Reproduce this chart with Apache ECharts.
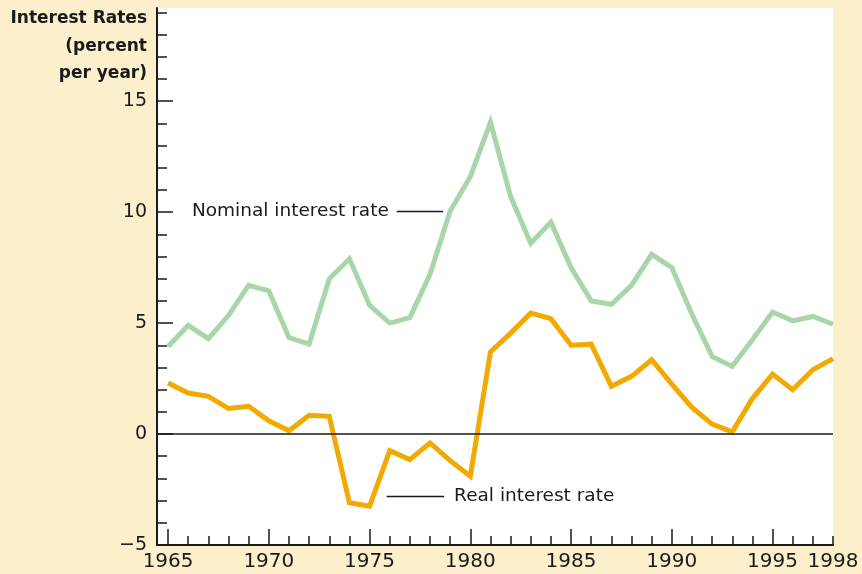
<!DOCTYPE html>
<html>
<head>
<meta charset="utf-8">
<style>
  html, body { margin: 0; padding: 0; background: #FCEFCB; }
  #chart { width: 862px; height: 574px; }
</style>
<script src="https://cdn.jsdelivr.net/npm/echarts@6/dist/echarts.min.js"></script>
</head>
<body>
<div id="chart"></div>
<script>
// Annual interest rates, percent per year
const years = [1965,1966,1967,1968,1969,1970,1971,1972,1973,1974,1975,1976,1977,1978,1979,1980,1981,
               1982,1983,1984,1985,1986,1987,1988,1989,1990,1991,1992,1993,1994,1995,1996,1997,1998];
const nominalRate = [3.95,4.9,4.3,5.35,6.7,6.45,4.35,4.05,7.0,7.9,5.8,5.0,5.25,7.2,10.05,11.6,14.05,
                     10.7,8.6,9.55,7.5,6.0,5.85,6.7,8.1,7.5,5.4,3.5,3.05,4.25,5.5,5.1,5.3,4.95];
const realRate = [2.3,1.85,1.7,1.15,1.25,0.6,0.15,0.85,0.8,-3.1,-3.25,-0.75,-1.15,-0.4,-1.2,-1.9,3.7,
                  4.55,5.45,5.2,4.0,4.05,2.15,2.6,3.35,2.25,1.2,0.45,0.1,1.6,2.7,2.0,2.9,3.4];

const xLabelYears = [1965,1970,1975,1980,1985,1990,1995,1998];
const xMajorTicks = [1965,1970,1975,1980,1985,1990,1995];
const yLabelValues = [-5,0,5,10,15];

const xMin = 1964.45, xMax = 1998;
const yMin = -5, yMax = 19.2;

const xMinorTicks = years.slice();
const yMinorTicks = [];
for (let v = -4; v <= 19; v++) yMinorTicks.push(v);

const GREEN = '#A8D6AA';
const ORANGE = '#F2A900';
const INK = '#1a1a1a';
const FONT = 'DejaVu Sans';

const gridBox = { left: 157, top: 8, right: 29, bottom: 29 };

const chart = echarts.init(document.getElementById('chart'), null, { renderer: 'canvas' });

const option = {
  backgroundColor: '#FCEFCB',
  animation: false,
  grid: [
    Object.assign({ show: true, backgroundColor: '#ffffff', borderWidth: 0 }, gridBox),
    Object.assign({ show: false }, gridBox)
  ],
  xAxis: [
    {
      type: 'value', gridIndex: 0, min: xMin, max: xMax,
      axisLine: { show: true, onZero: false, lineStyle: { color: INK, width: 2 } },
      axisTick: { show: true, inside: true, length: 16, customValues: xMajorTicks,
                  lineStyle: { color: INK, width: 1.5 } },
      axisLabel: { show: true, customValues: xLabelYears, margin: 7,
                   color: INK, fontFamily: FONT, fontSize: 20,
                   formatter: v => String(Math.round(v)) },
      splitLine: { show: false }
    },
    {
      type: 'value', gridIndex: 1, min: xMin, max: xMax,
      axisLine: { show: false, onZero: false },
      axisTick: { show: true, inside: true, length: 9, customValues: xMinorTicks,
                  lineStyle: { color: INK, width: 1.5 } },
      axisLabel: { show: false },
      splitLine: { show: false }
    }
  ],
  yAxis: [
    {
      type: 'value', gridIndex: 0, min: yMin, max: yMax,
      axisLine: { show: true, onZero: false, lineStyle: { color: INK, width: 2 } },
      axisTick: { show: true, inside: true, length: 16, customValues: yLabelValues,
                  lineStyle: { color: INK, width: 1.5 } },
      axisLabel: { show: true, customValues: yLabelValues, margin: 10,
                   color: INK, fontFamily: FONT, fontSize: 19,
                   formatter: v => String(v).replace('-', '\u2212') },
      splitLine: { show: false }
    },
    {
      type: 'value', gridIndex: 1, min: yMin, max: yMax,
      axisLine: { show: false, onZero: false },
      axisTick: { show: true, inside: true, length: 10, customValues: yMinorTicks,
                  lineStyle: { color: INK, width: 1.5 } },
      axisLabel: { show: false },
      splitLine: { show: false }
    }
  ],
  series: [
    {
      name: 'Nominal interest rate',
      type: 'line', xAxisIndex: 0, yAxisIndex: 0,
      data: years.map((y, i) => [y, nominalRate[i]]),
      symbol: 'none',
      lineStyle: { color: GREEN, width: 5, join: 'miter' },
      z: 3,
      markLine: {
        silent: true, symbol: 'none', animation: false,
        lineStyle: { color: INK, width: 1.3, type: 'solid' },
        label: {
          show: true, position: 'start', distance: 8,
          color: INK, fontFamily: FONT, fontSize: 18.5,
          formatter: 'Nominal interest rate'
        },
        data: [[{ coord: [1976.35, 10.05] }, { coord: [1978.65, 10.05] }]]
      }
    },
    {
      name: 'Real interest rate',
      type: 'line', xAxisIndex: 0, yAxisIndex: 0,
      data: years.map((y, i) => [y, realRate[i]]),
      symbol: 'none',
      lineStyle: { color: ORANGE, width: 5, join: 'miter' },
      z: 4,
      markLine: {
        silent: true, symbol: 'none', animation: false,
        lineStyle: { color: INK, width: 1.3, type: 'solid' },
        label: {
          show: true, position: 'end', distance: 10,
          color: INK, fontFamily: FONT, fontSize: 18.5,
          formatter: 'Real interest rate'
        },
        data: [[{ coord: [1975.85, -2.8] }, { coord: [1978.7, -2.8] }]]
      }
    },
    {
      // zero reference line across the plot
      type: 'line', xAxisIndex: 0, yAxisIndex: 0, data: [],
      z: 2,
      markLine: {
        silent: true, symbol: 'none', animation: false,
        lineStyle: { color: INK, width: 1.5, type: 'solid' },
        label: { show: false },
        data: [{ yAxis: 0 }]
      }
    }
  ],
  graphic: [
    {
      type: 'text', x: 147, y: 5,
      style: {
        text: 'Interest Rates\n(percent\nper year)',
        align: 'right', textAlign: 'right',
        font: 'bold 17px "DejaVu Sans"',
        lineHeight: 27.5,
        fill: INK
      }
    }
  ]
};

chart.setOption(option);
</script>
</body>
</html>
